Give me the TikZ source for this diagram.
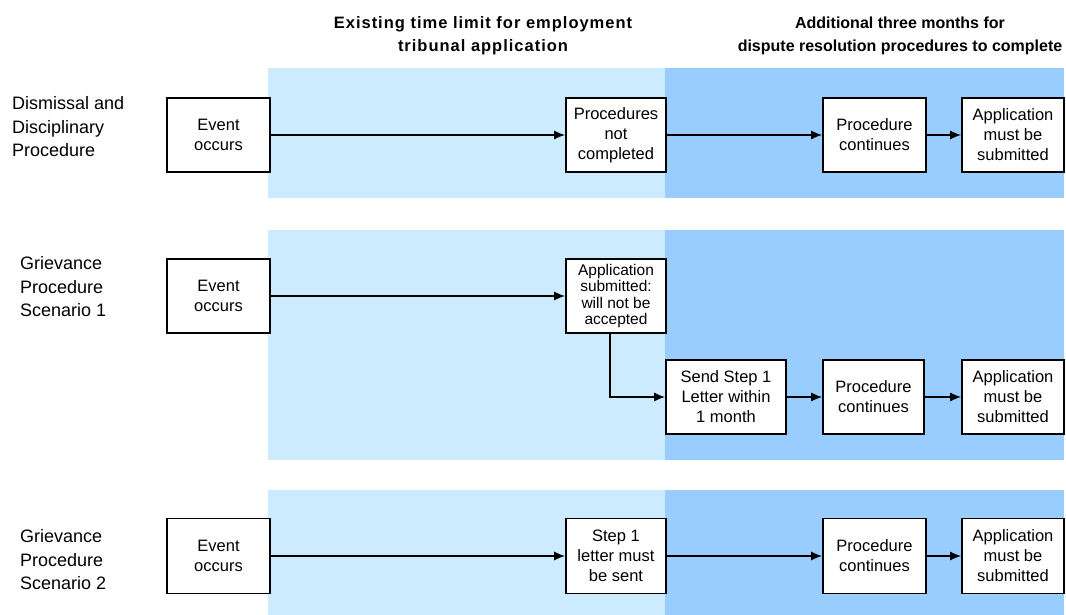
\documentclass[tikz,border=0pt]{standalone}
\usepackage{fontspec}
\setmainfont{Liberation Sans}
\newfontfamily\hdwide{Liberation Sans}[LetterSpace=6]
\usetikzlibrary{arrows.meta}
\definecolor{lightband}{RGB}{204,235,255}
\definecolor{darkband}{RGB}{153,204,255}
\begin{document}
\begin{tikzpicture}[x=1pt,y=-1pt,
  box/.style={draw=black, line width=1.6pt, fill=white, align=center, inner sep=0pt,
    font=\fontsize{16.5}{20}\selectfont},
  rowlabel/.style={align=left, anchor=west, inner sep=0pt, font=\fontsize{18}{23.5}\selectfont},
  header/.style={align=center, inner sep=0pt, font=\bfseries\fontsize{16}{23}\selectfont},
  flow/.style={line width=1.6pt, -{Latex[length=11pt,width=9pt]}}]
\useasboundingbox (0,0) rectangle (1066,615);
% bands
\fill[lightband] (268,68) rectangle (665,198);
\fill[darkband] (665,68) rectangle (1064,198);
\fill[lightband] (268,230) rectangle (665,460);
\fill[darkband] (665,230) rectangle (1064,460);
\fill[lightband] (268,490) rectangle (665,615);
\fill[darkband] (665,490) rectangle (1064,615);
% headers
\node[header, font=\hdwide\bfseries\fontsize{16.5}{23}\selectfont] (h1) at (483,36) {Existing time limit for employment\\tribunal application};
\node[header] (h2) at (900,36) {Additional three months for\\dispute resolution procedures to complete};
% row labels
\node[rowlabel] (r1) at (12,127) {Dismissal and\\Disciplinary\\Procedure};
\node[rowlabel] (r2) at (20,287) {Grievance\\Procedure\\Scenario 1};
\node[rowlabel] (r3) at (20,560) {Grievance\\Procedure\\Scenario 2};
% row 1
\node[box, minimum width=103, minimum height=74] (e1) at (218.5,135) {Event\\occurs};
\node[box, minimum width=100, minimum height=74] (p1) at (616,135) {Procedures\\not\\completed};
\node[box, minimum width=103, minimum height=74] (c1) at (874.5,135) {Procedure\\continues};
\node[box, minimum width=102, minimum height=74] (a1) at (1013,135) {Application\\must be\\submitted};
\draw[flow] (e1) -- (p1);
\draw[flow] (p1) -- (c1);
\draw[flow] (c1) -- (a1);
% row 2
\node[box, minimum width=103, minimum height=74] (e2) at (218.5,296) {Event\\occurs};
\node[box, minimum width=100, minimum height=74, font=\fontsize{15.5}{16.5}\selectfont] (s2) at (616,296) {Application\\submitted:\\will not be\\accepted};
\node[box, minimum width=120, minimum height=74] (l2) at (726,397) {Send Step 1\\Letter within\\1 month};
\node[box, minimum width=101, minimum height=74] (c2) at (873.5,397) {Procedure\\continues};
\node[box, minimum width=102, minimum height=74] (a2) at (1013,397) {Application\\must be\\submitted};
\draw[flow] (e2) -- (s2);
\draw[flow] ([xshift=-6pt]s2.south) |- (l2.west);
\draw[flow] (l2) -- (c2);
\draw[flow] (c2) -- (a2);
% row 3
\node[box, minimum width=103, minimum height=75] (e3) at (218.5,556) {Event\\occurs};
\node[box, minimum width=100, minimum height=75] (s3) at (616,556) {Step 1\\letter must\\be sent};
\node[box, minimum width=103, minimum height=75] (c3) at (874.5,556) {Procedure\\continues};
\node[box, minimum width=102, minimum height=75] (a3) at (1013,556) {Application\\must be\\submitted};
\draw[flow] (e3) -- (s3);
\draw[flow] (s3) -- (c3);
\draw[flow] (c3) -- (a3);
\end{tikzpicture}
\end{document}
